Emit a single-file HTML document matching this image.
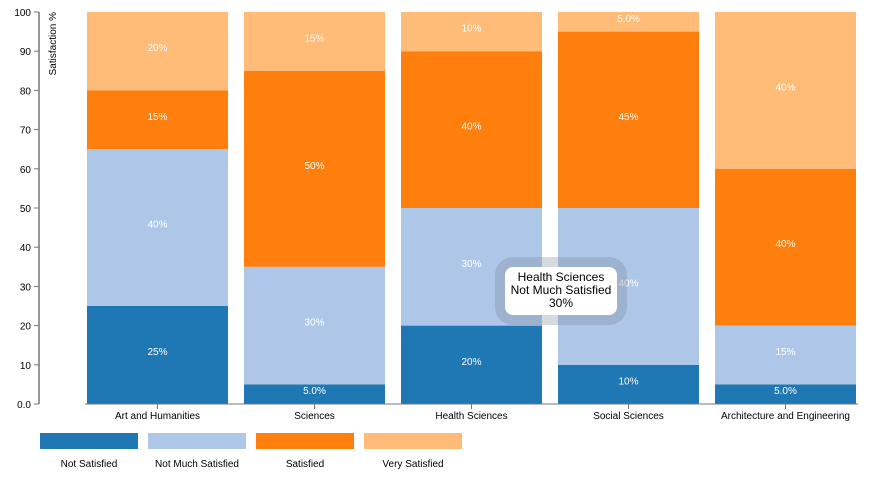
<!DOCTYPE html>
<html><head><meta charset="utf-8"><style>
body{margin:0;background:#fff;width:889px;height:477px;overflow:hidden;font-family:"Liberation Sans",sans-serif;}
svg{position:absolute;left:0;top:0}
#tip{position:absolute;left:505px;top:267px;width:112px;height:48px;background:#fff;border-radius:8px;box-shadow:0 0 0 10px rgba(120,130,150,0.3);text-align:center;font-size:12px;line-height:13px;padding-top:4px;box-sizing:border-box;color:#000}
</style></head><body>
<svg id="chart" width="889" height="477"></svg>
<div id="tip">Health Sciences<br>Not Much Satisfied<br>30%</div>
<script>
const categories=["Art and Humanities","Sciences","Health Sciences","Social Sciences","Architecture and Engineering"];
const seriesNames=["Not Satisfied","Not Much Satisfied","Satisfied","Very Satisfied"];
const notSatisfied=[25,5,20,10,5];
const notMuchSatisfied=[40,30,30,40,15];
const satisfied=[15,50,40,45,40];
const verySatisfied=[20,15,10,5,40];
const yTicks=[0,10,20,30,40,50,60,70,80,90,100];
const colors=["#1f77b4","#aec7e8","#ff7f0e","#ffbb78"];
const series=[notSatisfied,notMuchSatisfied,satisfied,verySatisfied];
const NS="http://www.w3.org/2000/svg";
const svg=document.getElementById('chart');
const y0=404,y1=12,x0=87,step=157,bw=141;
const y=v=>y0-(v/100)*(y0-y1);
const x=i=>x0+i*step;
function el(t,a,p){const e=document.createElementNS(NS,t);for(const k in a)e.setAttribute(k,a[k]);(p||svg).appendChild(e);return e;}
function fmt(v){return v<10?v.toFixed(1)+"%":v+"%";}
categories.forEach((c,i)=>{
  let acc=0;
  series.forEach((s,j)=>{
    const v=s[i];
    const r=el('rect',{x:x(i),y:y(acc+v),width:bw,height:y(acc)-y(acc+v),fill:colors[j]});
    
    
    const t=el('text',{x:x(i)+bw/2,y:y(acc+v/2),'text-anchor':'middle','font-size':10,fill:'#fff'});
    t.textContent=fmt(v);
    
    
    acc+=v;
  });
  el('line',{x1:x(i)+bw/2,x2:x(i)+bw/2,y1:y0,y2:y0+5,stroke:'#777'});
  const lb=el('text',{x:x(i)+bw/2,y:419,'text-anchor':'middle','font-size':10,fill:'#000'});
  lb.textContent=c;
  
  
});
const ax=el('line',{x1:39,x2:39,y1:y1,y2:y0,stroke:'#777','stroke-width':1.5});


const xa=el('line',{x1:x0-2,x2:x(4)+bw+2,y1:y0,y2:y0,stroke:'#777'});


yTicks.forEach(v=>{
  el('line',{x1:34,x2:39,y1:y(v),y2:y(v),stroke:'#777'});
  const t=el('text',{x:31,y:y(v)+4,'text-anchor':'end','font-size':10,fill:'#000'});
  t.textContent=v===0?"0.0":String(v);
  
  
});
const yt=el('text',{transform:'translate(56,12) rotate(-90)','text-anchor':'end','font-size':10,fill:'#000'});
yt.textContent="Satisfaction %";


seriesNames.forEach((n,j)=>{
  const r=el('rect',{x:40+j*108,y:433,width:98,height:16,fill:colors[j]});
  
  
  const t=el('text',{x:89+j*108,y:467,'text-anchor':'middle','font-size':10,fill:'#000'});
  t.textContent=n;
  
  
});
</script>
</body></html>
